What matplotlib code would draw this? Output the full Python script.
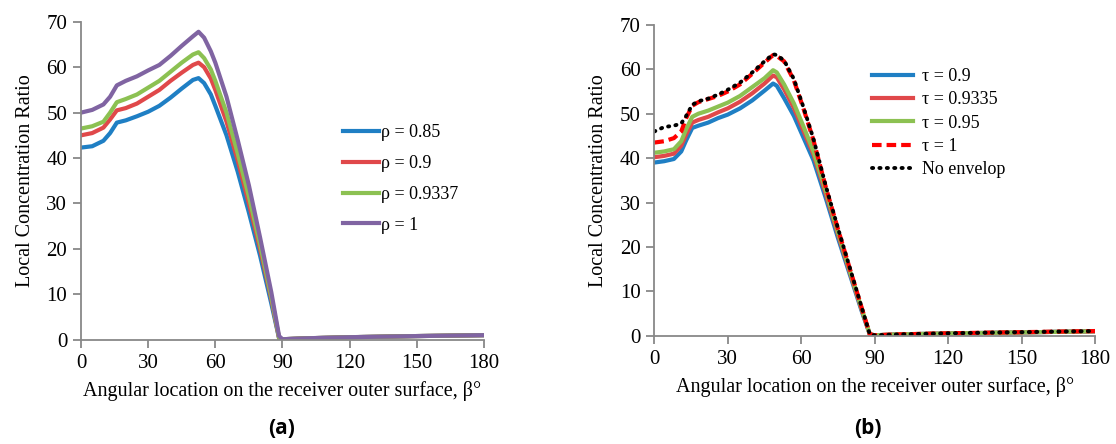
import matplotlib
matplotlib.use("Agg")
import matplotlib.pyplot as plt
import numpy as np

plt.rcParams['font.family'] = ['Liberation Serif', 'DejaVu Serif']

# ---- panel (a): reflectivity rho ----
xa = [0, 5, 10, 13, 16, 20, 25, 30, 35, 40, 45, 50, 52.5, 55, 58, 60, 65, 70, 75, 80, 85, 88.5,
      90, 100, 120, 150, 180]
rho_085 = [42.3, 42.6, 43.8, 45.5, 47.8, 48.3, 49.2, 50.2, 51.5, 53.3, 55.3, 57.2, 57.6, 56.5, 54, 51.5,
           45, 37, 28, 18.5, 8, 0.3, 0.1, 0.3, 0.55, 0.8, 1.0]
rho_09 = [45, 45.5, 46.7, 48.5, 50.5, 51, 52, 53.5, 55, 57, 58.8, 60.5, 61, 60, 57.5, 55,
          48, 39.5, 30, 20, 9, 0.3, 0.1, 0.3, 0.55, 0.8, 1.0]
rho_09337 = [46.5, 47, 48, 50, 52.3, 53, 54, 55.5, 57, 59, 61, 62.8, 63.3, 62, 59.5, 57,
             50, 41, 31.5, 21, 9.5, 0.4, 0.1, 0.3, 0.55, 0.8, 1.0]
rho_1 = [50, 50.6, 51.8, 53.5, 56, 57, 58, 59.3, 60.5, 62.5, 64.7, 66.8, 67.8, 66.5, 63.5, 61,
         53.5, 44, 34, 22.5, 10.5, 0.8, 0.1, 0.3, 0.55, 0.8, 1.0]

# ---- panel (b): transmissivity tau ----
xb = [0, 4, 8, 11, 13, 15.5, 18, 22, 26, 30, 35, 40, 45, 48.5, 50, 53, 57, 61, 65, 70, 75, 80, 85, 88,
      90, 100, 120, 150, 180]
tau_09 = [39, 39.3, 39.8, 41.5, 44, 46.8, 47.3, 48, 49, 49.8, 51.2, 53, 55.2, 56.8, 56.3, 53.5, 49.5,
          44.5, 39.5, 31, 22, 13.5, 5, 0.3, 0.1, 0.3, 0.5, 0.75, 1.0]
tau_09335 = [40.2, 40.5, 41, 42.8, 45.3, 48, 48.6, 49.3, 50.3, 51.2, 52.7, 54.6, 56.8, 58.6, 58.2, 55.5,
             51.3, 46, 40.8, 32, 22.8, 14, 5.3, 0.3, 0.1, 0.3, 0.5, 0.75, 1.0]
tau_095 = [41.2, 41.5, 42, 43.8, 46.5, 49.3, 50, 50.7, 51.6, 52.5, 54, 56, 58, 59.8, 59.3, 56.6,
           52.3, 47, 41.5, 32.7, 23.3, 14.3, 5.5, 0.3, 0.1, 0.3, 0.5, 0.75, 1.0]
tau_1 = [43.5, 43.8, 44.5, 46, 49, 51.8, 52.6, 53.3, 54, 55, 56.6, 59, 61.5, 63.2, 63, 61.8,
         57.5, 51, 44, 33.5, 24, 14.8, 5.7, 0.3, 0.1, 0.3, 0.55, 0.8, 1.05]
no_env = [46, 47, 47.3, 47.8, 49.5, 52, 52.8, 53.4, 54.3, 55.4, 57, 59.3, 61.8, 63.4, 63.2, 62,
          57.8, 51.3, 44.3, 33.8, 24.2, 15, 5.8, 0.3, 0.1, 0.3, 0.55, 0.8, 1.05]

c_blue = '#1f7fc4'
c_red = '#e0484a'
c_green = '#8cc152'
c_purple = '#8064a2'
gray = '#888888'

fig = plt.figure(figsize=(11.16, 4.44), dpi=100)
ax1 = fig.add_axes([0.0726, 0.2349, 0.361, 0.716])
ax2 = fig.add_axes([0.5863, 0.2439, 0.395, 0.700])

lw = 3.0
ax1.plot(xa, rho_085, color=c_blue, lw=lw, label='ρ = 0.85')
ax1.plot(xa, rho_09, color=c_red, lw=lw, label='ρ = 0.9')
ax1.plot(xa, rho_09337, color=c_green, lw=lw, label='ρ = 0.9337')
ax1.plot(xa, rho_1, color=c_purple, lw=lw, label='ρ = 1')

ax2.plot(xb, tau_09, color=c_blue, lw=lw, label='τ = 0.9')
ax2.plot(xb, tau_09335, color=c_red, lw=lw, label='τ = 0.9335')
ax2.plot(xb, tau_095, color=c_green, lw=lw, label='τ = 0.95')
ax2.plot(xb, tau_1, color='#ff0000', lw=3.0, ls=(0, (2.3, 1.2)), label='τ = 1')
ax2.plot(xb, no_env, color='black', lw=2.8, ls=(0, (0.3, 1.6)), dash_capstyle='round',
         label='No envelop')

for ax in (ax1, ax2):
    ax.set_xlim(0, 180)
    ax.set_ylim(0, 70)
    ax.set_xticks(np.arange(0, 181, 30))
    ax.set_yticks(np.arange(0, 71, 10))
    for s in ('top', 'right'):
        ax.spines[s].set_visible(False)
    for s in ('left', 'bottom'):
        ax.spines[s].set_color(gray)
        ax.spines[s].set_linewidth(1.3)
    ax.tick_params(direction='out', length=6, width=1.3, color=gray, labelsize=15, pad=4)
    ax.set_xlabel('Angular location on the receiver outer surface, β°', fontsize=14.5, labelpad=6)
    ax.set_ylabel('Local Concentration Ratio', fontsize=14.5, labelpad=8)

ax1.legend(loc='upper left', bbox_to_anchor=(0.632, 0.70), frameon=False, fontsize=13,
           handlelength=2.0, handletextpad=0.1, labelspacing=0.76, borderaxespad=0)
ax2.legend(loc='upper left', bbox_to_anchor=(0.477, 0.885), frameon=False, fontsize=13,
           handlelength=2.3, handletextpad=0.5, labelspacing=0.35, borderaxespad=0)

fig.text(282 / 1116, 1 - 428 / 444, '(a)', ha='center', va='center', fontsize=15,
         fontweight='bold', family=['Open Sans', 'DejaVu Sans'])
fig.text(868 / 1116, 1 - 428 / 444, '(b)', ha='center', va='center', fontsize=15,
         fontweight='bold', family=['Open Sans', 'DejaVu Sans'])

fig.savefig('out.png', dpi=100)
